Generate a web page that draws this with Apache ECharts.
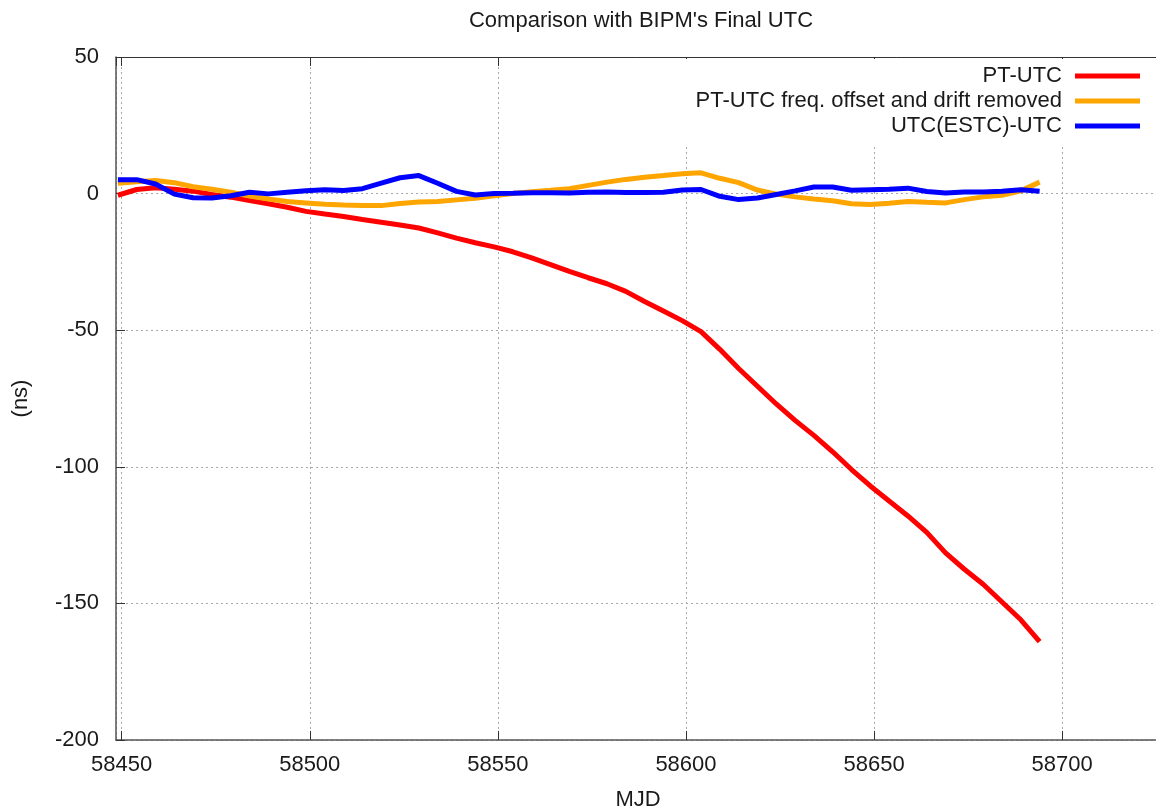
<!DOCTYPE html>
<html>
<head>
<meta charset="utf-8">
<script src="https://cdn.jsdelivr.net/npm/echarts@6/dist/echarts.min.js"></script>
<style>
  html, body { margin: 0; padding: 0; background: #fff; overflow: hidden; }
  #main { width: 1156px; height: 812px; }
</style>
</head>
<body>
<div id="main"></div>
<script>
var chart_dom = document.getElementById("main");
var chart = echarts.init(chart_dom);

// MJD sample points (every 5 days)
var mjd = [58449, 58454, 58459, 58464, 58469, 58474, 58479, 58484, 58489, 58494,
           58499, 58504, 58509, 58514, 58519, 58524, 58529, 58534, 58539, 58544,
           58549, 58554, 58559, 58564, 58569, 58574, 58579, 58584, 58589, 58594,
           58599, 58604, 58609, 58614, 58619, 58624, 58629, 58634, 58639, 58644,
           58649, 58654, 58659, 58664, 58669, 58674, 58679, 58684, 58689, 58694];

// PT-UTC (ns)
var pt_utc = [-0.6, 1.5, 2.1, 1.6, 0.9, -0.3, -1.3, -2.5, -3.7, -5.0,
              -6.5, -7.5, -8.4, -9.5, -10.5, -11.5, -12.6, -14.4, -16.3, -18.0,
              -19.5, -21.3, -23.5, -26.0, -28.5, -30.8, -33.0, -35.8, -39.5, -43.0,
              -46.5, -50.5, -57.0, -64.0, -70.5, -77.0, -83.0, -88.5, -94.5, -101.0,
              -107.0, -112.5, -118.0, -124.0, -131.5, -137.5, -143.0, -149.5, -156.0, -164.0];

// PT-UTC freq. offset and drift removed (ns)
var pt_utc_removed = [3.8, 4.3, 4.8, 4.0, 2.5, 1.6, 0.5, -0.9, -2.0, -2.9,
                      -3.4, -3.9, -4.2, -4.4, -4.4, -3.6, -3.1, -2.9, -2.3, -1.7,
                      -0.8, 0.0, 0.7, 1.2, 1.8, 3.0, 4.2, 5.2, 6.0, 6.6,
                      7.3, 7.6, 5.6, 4.0, 1.3, -0.2, -1.2, -2.0, -2.6, -3.7,
                      -4.0, -3.5, -2.9, -3.2, -3.4, -2.2, -1.2, -0.6, 1.0, 4.2];

// UTC(ESTC)-UTC (ns)
var estc_utc = [5.1, 5.1, 3.5, -0.2, -1.5, -1.6, -0.8, 0.5, -0.1, 0.5,
                1.0, 1.4, 1.1, 1.8, 3.8, 5.8, 6.6, 3.8, 0.8, -0.5,
                0.0, 0.1, 0.3, 0.3, 0.2, 0.5, 0.6, 0.4, 0.4, 0.5,
                1.3, 1.5, -1.0, -2.2, -1.6, -0.3, 1.0, 2.4, 2.4, 1.2,
                1.4, 1.6, 2.0, 0.8, 0.2, 0.6, 0.6, 0.9, 1.4, 0.9];

var series_names = ["PT-UTC", "PT-UTC freq. offset and drift removed", "UTC(ESTC)-UTC"];
var series_colors = ["#ff0000", "#ffa500", "#0000ff"];
var series_values = [pt_utc, pt_utc_removed, estc_utc];

var font = "'Liberation Sans', Arial, sans-serif";
var text_color = "#1a1a1a";

function pairs(xs, ys) {
    return xs.map(function (x, i) { return [x, ys[i]]; });
}

var series_list = [];
for (var i = 0; i < series_names.length; i++) {
    series_list.push({
        name: series_names[i],
        type: 'line',
        data: pairs(mjd, series_values[i]),
        showSymbol: false,
        symbol: 'none',
        lineStyle: { color: series_colors[i], width: 5 },
        itemStyle: { color: series_colors[i] },
        z: 3 + i
    });
}

var grid_line = { show: true, lineStyle: { color: '#a8a8a8', width: 1, type: [2, 3] } };
var x_min = 58448.5;
var x_max = 58726;

var option = {
    animation: false,
    backgroundColor: '#ffffff',
    title: {
        text: "Comparison with BIPM's Final UTC",
        left: 636,
        textAlign: 'center',
        top: 5,
        textStyle: { fontFamily: font, fontSize: 22, fontWeight: 'normal', color: text_color }
    },
    legend: {
        orient: 'vertical',
        align: 'right',
        right: 16,
        top: 59,
        padding: [6, 0, 8, 14],
        backgroundColor: '#ffffff',
        itemWidth: 65,
        itemHeight: 5,
        itemGap: 3,
        icon: 'rect',
        data: series_names,
        textStyle: { fontFamily: font, fontSize: 22, lineHeight: 22, color: text_color, padding: [0, 8, 0, 0] }
    },
    // keep the plot box exactly where it is; no auto shrinking for labels
    grid: { left: 116, right: -4, top: 57, bottom: 72, containLabel: false, outerBoundsMode: 'none' },
    xAxis: [{
        type: 'value',
        min: x_min,
        max: x_max,
        splitNumber: 5,
        name: 'MJD',
        nameLocation: 'middle',
        nameGap: 49,
        nameTextStyle: { fontFamily: font, fontSize: 22, color: text_color },
        axisLine: { show: true, onZero: false, lineStyle: { color: '#555555', width: 1.5 } },
        axisTick: { show: true, inside: true, length: 9, lineStyle: { color: '#333333' } },
        axisLabel: {
            showMinLabel: false, showMaxLabel: false, margin: 14,
            fontFamily: font, fontSize: 22, color: text_color,
            formatter: function (v) { return String(v); }
        },
        splitLine: grid_line
    }, {
        type: 'value',
        position: 'top',
        min: x_min,
        max: x_max,
        splitNumber: 5,
        axisLine: { show: true, onZero: false, lineStyle: { color: '#333333', width: 1 } },
        axisTick: { show: true, inside: true, length: 9, lineStyle: { color: '#333333' } },
        axisLabel: { show: false },
        splitLine: { show: false }
    }],
    yAxis: {
        type: 'value',
        min: -200,
        max: 50,
        interval: 50,
        name: '(ns)',
        nameLocation: 'middle',
        nameGap: 84,
        nameTextStyle: { fontFamily: font, fontSize: 22, color: text_color },
        axisLine: { show: true, lineStyle: { color: '#555555', width: 1.5 } },
        axisTick: { show: true, inside: true, length: 9, lineStyle: { color: '#333333' } },
        axisLabel: { margin: 17, fontFamily: font, fontSize: 22, color: text_color },
        splitLine: grid_line
    },
    series: series_list
};

chart.setOption(option);
</script>
</body>
</html>
